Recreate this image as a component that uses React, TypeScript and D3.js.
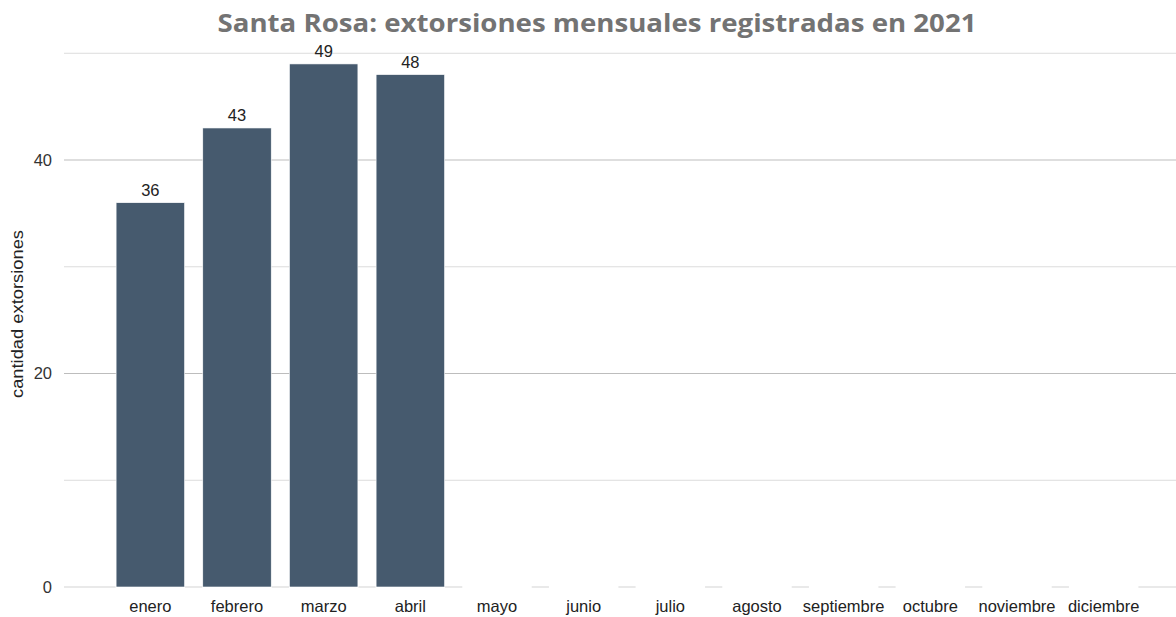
import React from "react";
import * as d3 from "d3";

const months = ["enero", "febrero", "marzo", "abril", "mayo", "junio", "julio", "agosto", "septiembre", "octubre", "noviembre", "diciembre"];
const values = [36, 43, 49, 48, 0, 0, 0, 0, 0, 0, 0, 0];
const majorTicks = [0, 20, 40];
const minorTicks = [10, 30, 50];
const title = "Santa Rosa: extorsiones mensuales registradas en 2021";
const yTitle = "cantidad extorsiones";

export default function App() {
  const W = 1176, H = 617;
  const plotLeft = 64, plotRight = 1176;
  const x = d3.scaleBand<string>().domain(months).range([107, 1147]).paddingInner(0.21).paddingOuter(0.105);
  const y = d3.scaleLinear().domain([0, 50]).range([587, 53.25]);
  const font = "'Liberation Sans', Arial, sans-serif";
  return (
    <svg width={W} height={H} style={{ position: "absolute", left: 0, top: 0, background: "#fff" }}>
      <rect x={0} y={0} width={W} height={H} fill="#fff" />
      {minorTicks.map((t) => (
        <line key={"mi" + t} x1={plotLeft} x2={plotRight} y1={y(t)} y2={y(t)} stroke="#dcdcdc" strokeWidth={1} />
      ))}
      {majorTicks.map((t) => (
        <line key={"ma" + t} x1={plotLeft} x2={plotRight} y1={y(t)} y2={y(t)} stroke={t === 0 ? "#d4d4d4" : "#bdbdbd"} strokeWidth={1.2} />
      ))}
      {majorTicks.map((t) => (
        <text key={"tl" + t} x={52} y={y(t)} dy="0.35em" textAnchor="end" fontFamily={font} fontSize={16.5} fill="#333">{t}</text>
      ))}
      {months.map((m, i) => {
        const x0 = x(m)!;
        const bw = x.bandwidth();
        const v = values[i];
        return (
          <g key={m}>
            <line x1={x0 - 0.5} x2={x0 + bw + 0.5} y1={y(0)} y2={y(0)} stroke="#fff" strokeWidth={2} />
            {v > 0 && (
              <rect x={x0} y={y(v)} width={bw} height={y(0) - y(v)} fill="#465a6e" stroke="#fff" strokeWidth={0.6} />
            )}
            {v > 0 && (
              <text x={x0 + bw / 2} y={y(v) - 7} textAnchor="middle" fontFamily={font} fontSize={16.5} fill="#222">{v}</text>
            )}
            <text x={x0 + bw / 2} y={612} textAnchor="middle" fontFamily={font} fontSize={16.5} fill="#222">{m}</text>
          </g>
        );
      })}
      <text transform={`translate(23,314) rotate(-90)`} textAnchor="middle" fontFamily={font} fontSize={17} fill="#222" textLength={168} lengthAdjust="spacingAndGlyphs">{yTitle}</text>
      <text x={597} y={32} textAnchor="middle" fontFamily="'Open Sans', 'Noto Sans', sans-serif" fontWeight="bold" fontSize={25} fill="#737373" textLength={759} lengthAdjust="spacingAndGlyphs">{title}</text>
    </svg>
  );
}
